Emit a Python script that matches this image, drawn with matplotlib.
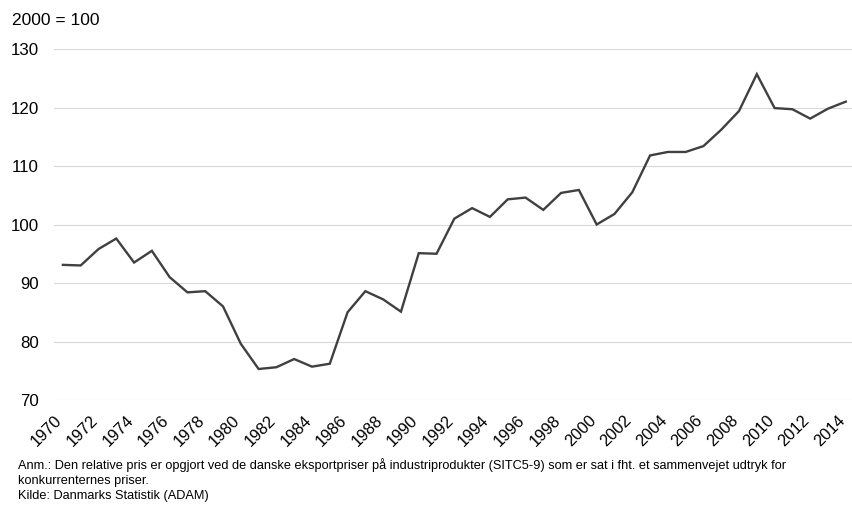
import numpy as np
import matplotlib.pyplot as plt

plt.rcParams['font.family'] = ['Liberation Sans', 'DejaVu Sans']

years = list(range(1970, 2015))
rel_price = [93.1, 93.0, 95.8, 97.6, 93.5, 95.5, 91.0, 88.4, 88.6, 86.0,
             79.6, 75.3, 75.6, 77.0, 75.7, 76.2, 85.0, 88.6, 87.2, 85.1,
             95.1, 95.0, 101.0, 102.8, 101.3, 104.3, 104.6, 102.5, 105.4, 105.9,
             100.0, 101.8, 105.5, 111.8, 112.4, 112.4, 113.4, 116.2, 119.4, 125.7,
             119.9, 119.7, 118.1, 119.8, 121.0]
yticks = [70, 80, 90, 100, 110, 120, 130]

note_lines = ['Anm.: Den relative pris er opgjort ved de danske eksportpriser på industriprodukter '
              '(SITC5-9) som er sat i fht. et sammenvejet udtryk for',
              'konkurrenternes priser.',
              'Kilde: Danmarks Statistik (ADAM)']

fig = plt.figure(figsize=(8.52, 5.05), dpi=100)
ax = fig.add_axes([54/852, 1 - 400/505, 798/852, 351/505])

ax.plot(years, rel_price, color='#404040', lw=1.7, solid_joinstyle='miter')

ax.set_ylim(70, 130)
ax.set_xlim(1969.5, 2014.35)
ax.set_yticks(yticks)
ax.set_xticks(years[::2])
ax.set_xticklabels([str(y) for y in years[::2]], rotation=45, ha='right', va='baseline',
                   rotation_mode='anchor', fontsize=11.8)
ax.tick_params(axis='y', length=0, pad=11, labelsize=12.2)
ax.tick_params(axis='x', length=0, pad=15)
ax.grid(axis='y', color='#d9d9d9', lw=0.8)
ax.set_axisbelow(True)
for s in ax.spines.values():
    s.set_visible(False)

fig.text(12/852, 1 - 20.5/505, '2000 = 100', fontsize=12.5, va='center', ha='left')
for i, line in enumerate(note_lines):
    fig.text(18/852, 1 - (469 + 15 * i)/505, line, fontsize=9.2, va='baseline', ha='left')

fig.savefig('out.png', dpi=100)
